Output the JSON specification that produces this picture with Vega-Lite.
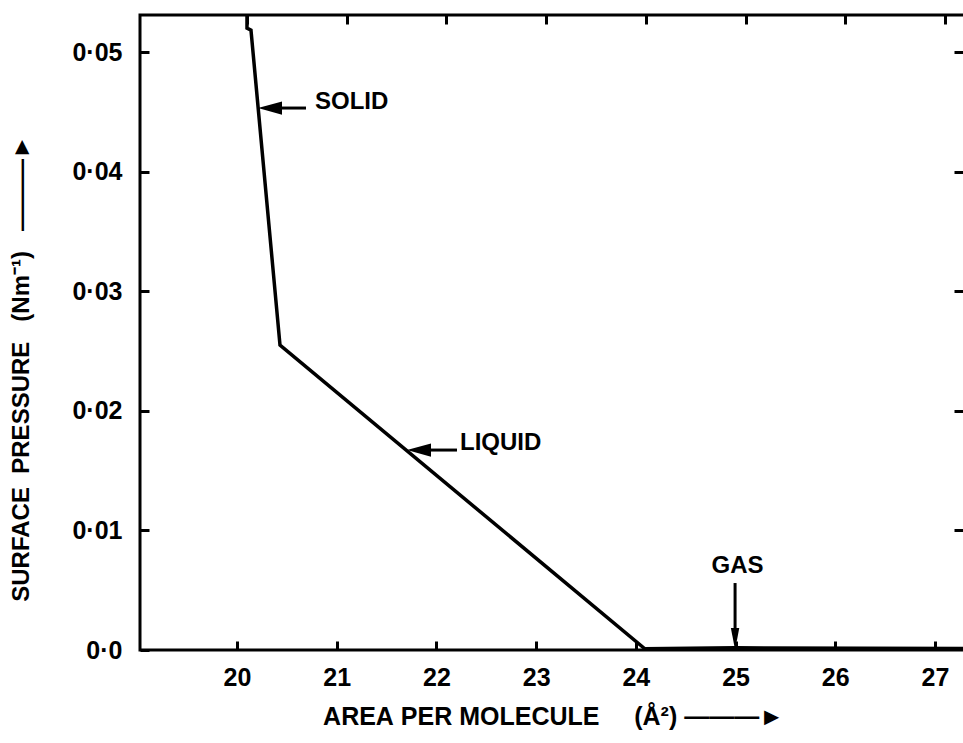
{
  "$schema": "https://vega.github.io/schema/vega-lite/v6.json",
  "width": 826,
  "height": 635,
  "autosize": {"type": "none"},
  "padding": {"left": 140, "top": 15, "right": 0, "bottom": 93},
  "background": "white",
  "config": {
    "view": {"stroke": "black", "strokeWidth": 3},
    "font": "Liberation Sans",
    "axis": {
      "grid": false,
      "domain": false,
      "tickColor": "black",
      "tickWidth": 3,
      "labelColor": "black",
      "titleColor": "black",
      "labelFont": "Liberation Sans",
      "titleFont": "Liberation Sans",
      "labelFontWeight": "bold",
      "titleFontWeight": "bold",
      "labelFontSize": 25,
      "titleFontSize": 25
    },
    "text": {"font": "Liberation Sans"}
  },
  "datasets": {
    "curve": [
      {"area": 20.10, "pressure": 0.0531},
      {"area": 20.10, "pressure": 0.0520},
      {"area": 20.14, "pressure": 0.05184},
      {"area": 20.431, "pressure": 0.0255},
      {"area": 24.09, "pressure": 0.0001},
      {"area": 25.0, "pressure": 0.00018},
      {"area": 27.31, "pressure": 0.00012}
    ],
    "shafts": [
      {"x1": 20.451, "x2": 20.692, "y1": 0.04532, "y2": 0.04532},
      {"x1": 21.936, "x2": 22.206, "y1": 0.01672, "y2": 0.01672},
      {"x1": 24.995, "x2": 24.995, "y1": 0.0056, "y2": 0.00184}
    ],
    "headsLeft": [
      {"x": 20.331, "y": 0.04532},
      {"x": 21.825, "y": 0.01672}
    ],
    "headsDown": [
      {"x": 24.995, "y": 0.00092}
    ],
    "labels": [
      {"x": 20.782, "y": 0.04582, "text": "SOLID"},
      {"x": 22.236, "y": 0.01731, "text": "LIQUID"}
    ],
    "labelsCenter": [
      {"x": 25.02, "y": 0.00702, "text": "GAS"}
    ]
  },
  "layer": [
    {
      "data": {"name": "curve"},
      "mark": {"type": "line", "color": "black", "strokeWidth": 3.5, "strokeJoin": "miter"},
      "encoding": {
        "x": {
          "field": "area", "type": "quantitative",
          "scale": {"domain": [19.027, 27.311], "nice": false, "zero": false},
          "axis": {
            "orient": "bottom",
            "values": [20, 21, 22, 23, 24, 25, 26, 27],
            "format": "d",
            "tickSize": -9,
            "labelPadding": 24,
            "title": "AREA\u00a0PER\u00a0MOLECULE\u00a0\u00a0\u00a0\u00a0\u00a0(Å²)\u00a0———►",
            "titlePadding": 14
          }
        },
        "y": {
          "field": "pressure", "type": "quantitative",
          "scale": {"domain": [0, 0.0531], "nice": false, "zero": false},
          "axis": {
            "orient": "left",
            "values": [0, 0.01, 0.02, 0.03, 0.04, 0.05],
            "labelExpr": "datum.value == 0 ? '0·0' : replace(format(datum.value, '.2f'), '.', '·')",
            "tickSize": -9,
            "labelPadding": 27,
            "title": "SURFACE\u00a0\u00a0PRESSURE\u00a0\u00a0\u00a0(Nm⁻¹)\u00a0\u00a0\u00a0———►",
            "titleFontSize": 24,
            "titlePadding": 38,
            "titleY": 353
          }
        }
      }
    },
    {
      "data": {"name": "shafts"},
      "mark": {"type": "rule", "color": "black", "strokeWidth": 3},
      "encoding": {
        "x": {
          "field": "x1", "type": "quantitative",
          "scale": {"domain": [19.027, 27.311], "nice": false, "zero": false},
          "axis": {
            "orient": "top",
            "values": [20, 21, 22, 23, 24, 25, 26, 27],
            "labels": false,
            "tickSize": -9,
            "tickOffset": 10,
            "title": null
          }
        },
        "x2": {"field": "x2"},
        "y": {
          "field": "y1", "type": "quantitative",
          "scale": {"domain": [0, 0.0531], "nice": false, "zero": false},
          "axis": {
            "orient": "right",
            "values": [0.01, 0.02, 0.03, 0.04, 0.05],
            "labels": false,
            "tickSize": -12,
            "title": null
          }
        },
        "y2": {"field": "y2"}
      }
    },
    {
      "data": {"name": "headsLeft"},
      "mark": {"type": "point", "shape": "M -1 0 L 1 -0.55 L 1 0.55 Z", "size": 576, "filled": true, "color": "black", "opacity": 1},
      "encoding": {
        "x": {"field": "x", "type": "quantitative", "scale": {"domain": [19.027, 27.311], "nice": false, "zero": false}, "axis": null},
        "y": {"field": "y", "type": "quantitative", "scale": {"domain": [0, 0.0531], "nice": false, "zero": false}, "axis": null}
      }
    },
    {
      "data": {"name": "headsDown"},
      "mark": {"type": "point", "shape": "M 0 1 L -0.38 -1 L 0.38 -1 Z", "size": 484, "filled": true, "color": "black", "opacity": 1},
      "encoding": {
        "x": {"field": "x", "type": "quantitative", "scale": {"domain": [19.027, 27.311], "nice": false, "zero": false}, "axis": null},
        "y": {"field": "y", "type": "quantitative", "scale": {"domain": [0, 0.0531], "nice": false, "zero": false}, "axis": null}
      }
    },
    {
      "data": {"name": "labels"},
      "mark": {"type": "text", "align": "left", "baseline": "middle", "fontSize": 24, "fontWeight": "bold", "color": "black"},
      "encoding": {
        "x": {"field": "x", "type": "quantitative", "scale": {"domain": [19.027, 27.311], "nice": false, "zero": false}, "axis": null},
        "y": {"field": "y", "type": "quantitative", "scale": {"domain": [0, 0.0531], "nice": false, "zero": false}, "axis": null},
        "text": {"field": "text"}
      }
    },
    {
      "data": {"name": "labelsCenter"},
      "mark": {"type": "text", "align": "center", "baseline": "middle", "fontSize": 24, "fontWeight": "bold", "color": "black"},
      "encoding": {
        "x": {"field": "x", "type": "quantitative", "scale": {"domain": [19.027, 27.311], "nice": false, "zero": false}, "axis": null},
        "y": {"field": "y", "type": "quantitative", "scale": {"domain": [0, 0.0531], "nice": false, "zero": false}, "axis": null},
        "text": {"field": "text"}
      }
    }
  ],
  "resolve": {"axis": {"x": "independent", "y": "independent"}}
}
